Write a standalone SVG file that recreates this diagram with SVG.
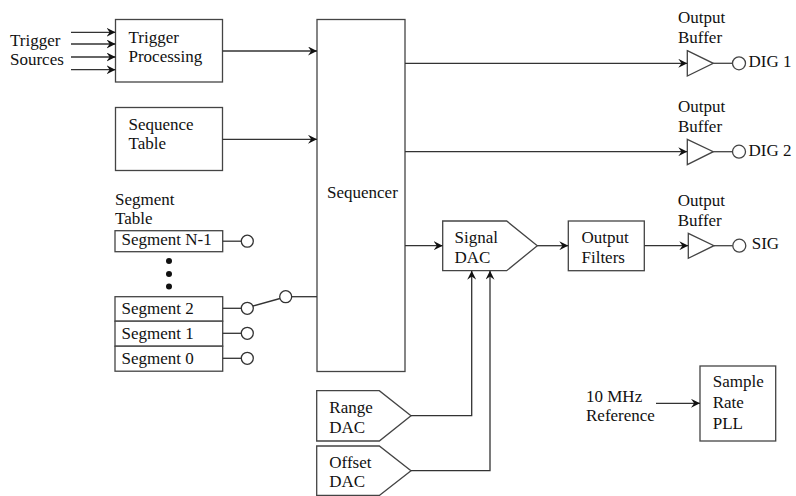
<svg xmlns="http://www.w3.org/2000/svg" width="796" height="496" viewBox="0 0 796 496" font-family="'Liberation Serif', serif" font-size="17">
<defs>
<marker id="arr" viewBox="0 0 10 10" refX="10" refY="5" markerWidth="9" markerHeight="9" markerUnits="userSpaceOnUse" orient="auto">
<path d="M0,0 L10,5 L0,10 L3.5,5 z" fill="#111"/>
</marker>
</defs>
<rect width="796" height="496" fill="#fff"/>

<g id="nodes" fill="#fff" stroke="#444" stroke-width="1.3">
<g id="trigger-sources">
<text x="10" y="46" fill="#111" stroke="none">Trigger</text>
<text x="10" y="65" fill="#111" stroke="none">Sources</text>
</g>

<g id="trigger-processing">
<rect x="115.5" y="19.5" width="107" height="62.5"/>
<g fill="#111" stroke="none">
<text x="128.5" y="42.5">Trigger</text>
<text x="128.5" y="62">Processing</text>
</g>
</g>

<g id="sequence-table">
<rect x="115.5" y="107.5" width="107" height="63"/>
<g fill="#111" stroke="none">
<text x="128.5" y="130">Sequence</text>
<text x="128.5" y="149">Table</text>
</g>
</g>

<g id="sequencer">
<rect x="317" y="19.5" width="88" height="352"/>
<text x="327" y="198" fill="#111" stroke="none">Sequencer</text>
</g>

<g id="segment-table">
<rect x="115" y="230.7" width="107.7" height="21"/>
<rect x="115" y="296.7" width="107.7" height="24.5"/>
<rect x="115" y="321.2" width="107.7" height="25"/>
<rect x="115" y="346.2" width="107.7" height="25"/>
<g fill="#111" stroke="none">
<text x="115" y="205">Segment</text>
<text x="115" y="224">Table</text>
<text x="121.5" y="244.5">Segment N-1</text>
<circle cx="169" cy="261" r="3"/>
<circle cx="169" cy="274" r="3"/>
<circle cx="169" cy="286.5" r="3"/>
<text x="121.5" y="314">Segment 2</text>
<text x="121.5" y="339">Segment 1</text>
<text x="121.5" y="364">Segment 0</text>
</g>
</g>

<g id="signal-dac">
<path d="M442.7,221 L506.7,221 L537.3,245.7 L506.7,270.7 L442.7,270.7 Z"/>
<g fill="#111" stroke="none">
<text x="454.5" y="243.3">Signal</text>
<text x="454.5" y="262.7">DAC</text>
</g>
</g>

<g id="output-filters">
<rect x="568.3" y="221" width="76" height="49.7"/>
<g fill="#111" stroke="none">
<text x="581.5" y="243.3">Output</text>
<text x="581.5" y="262.7">Filters</text>
</g>
</g>

<g id="range-dac">
<path d="M316.7,390.7 L379.3,390.7 L411,415.7 L379.3,441 L316.7,441 Z"/>
<g fill="#111" stroke="none">
<text x="329.3" y="413.3">Range</text>
<text x="329.3" y="433.3">DAC</text>
</g>
</g>

<g id="offset-dac">
<path d="M316.7,446 L379.3,446 L411,470.7 L379.3,495.5 L316.7,495.5 Z"/>
<g fill="#111" stroke="none">
<text x="329.3" y="467.7">Offset</text>
<text x="329.3" y="487.3">DAC</text>
</g>
</g>

<g id="buffer-dig1">
<path d="M687.3,50.7 L713.3,63.3 L687.3,76 Z"/>
<line x1="713.3" y1="63.3" x2="732.5" y2="63.3"/>
<circle cx="739" cy="63.3" r="6.5"/>
<g fill="#111" stroke="none">
<text x="678" y="23">Output</text>
<text x="678" y="43.3">Buffer</text>
<text x="748.5" y="67">DIG 1</text>
</g>
</g>

<g id="buffer-dig2">
<path d="M687.3,139.3 L713.3,151.7 L687.3,164.7 Z"/>
<line x1="713.3" y1="151.7" x2="732.5" y2="151.7"/>
<circle cx="739" cy="151.7" r="6.5"/>
<g fill="#111" stroke="none">
<text x="678" y="111.7">Output</text>
<text x="678" y="132.3">Buffer</text>
<text x="748.5" y="155.5">DIG 2</text>
</g>
</g>

<g id="buffer-sig">
<path d="M688.3,233.3 L714,245.7 L688.3,258.3 Z"/>
<line x1="714" y1="245.7" x2="732.8" y2="245.7"/>
<circle cx="739.3" cy="245.7" r="6.5"/>
<g fill="#111" stroke="none">
<text x="677.7" y="206">Output</text>
<text x="677.7" y="225.7">Buffer</text>
<text x="751.7" y="248.5">SIG</text>
</g>
</g>

<g id="reference" fill="#111" stroke="none">
<text x="586" y="401.7">10 MHz</text>
<text x="586" y="420.7">Reference</text>
</g>

<g id="sample-rate-pll">
<rect x="700" y="366" width="75.7" height="75"/>
<g fill="#111" stroke="none">
<text x="712.7" y="386.7">Sample</text>
<text x="712.7" y="408.3">Rate</text>
<text x="712.7" y="429.3">PLL</text>
</g>
</g>
</g>

<g id="connectors" fill="none" stroke="#333" stroke-width="1.3">
<g marker-end="url(#arr)">
<line x1="71" y1="32.3" x2="115.5" y2="32.3"/>
<line x1="71" y1="44" x2="115.5" y2="44"/>
<line x1="71" y1="57" x2="115.5" y2="57"/>
<line x1="71" y1="69.7" x2="115.5" y2="69.7"/>
<line x1="222.5" y1="51" x2="317" y2="51"/>
<line x1="222.5" y1="139.3" x2="317" y2="139.3"/>
<line x1="405" y1="63.3" x2="687.3" y2="63.3"/>
<line x1="405" y1="151.7" x2="687.3" y2="151.7"/>
<line x1="405" y1="245.7" x2="442.7" y2="245.7"/>
<line x1="537.3" y1="245.7" x2="568.3" y2="245.7"/>
<line x1="644.3" y1="245.7" x2="688.3" y2="245.7"/>
<polyline points="411,415.7 471.7,415.7 471.7,270.7"/>
<polyline points="411,470.7 490,470.7 490,270.7"/>
<line x1="656" y1="403.3" x2="700" y2="403.3"/>
</g>
<line x1="222.7" y1="241.2" x2="241" y2="241.2"/>
<line x1="222.7" y1="308.3" x2="241" y2="308.3"/>
<line x1="222.7" y1="333.3" x2="241" y2="333.3"/>
<line x1="222.7" y1="358.3" x2="241" y2="358.3"/>
<line x1="253" y1="306" x2="280" y2="298.5"/>
<line x1="291.7" y1="296.7" x2="317" y2="296.7"/>
<g fill="#fff">
<circle cx="247.3" cy="241.2" r="6"/>
<circle cx="247.3" cy="308.3" r="6"/>
<circle cx="247.3" cy="333.3" r="6"/>
<circle cx="247.3" cy="358.3" r="6"/>
<circle cx="285.7" cy="296.7" r="6"/>
</g>
</g>
</svg>
